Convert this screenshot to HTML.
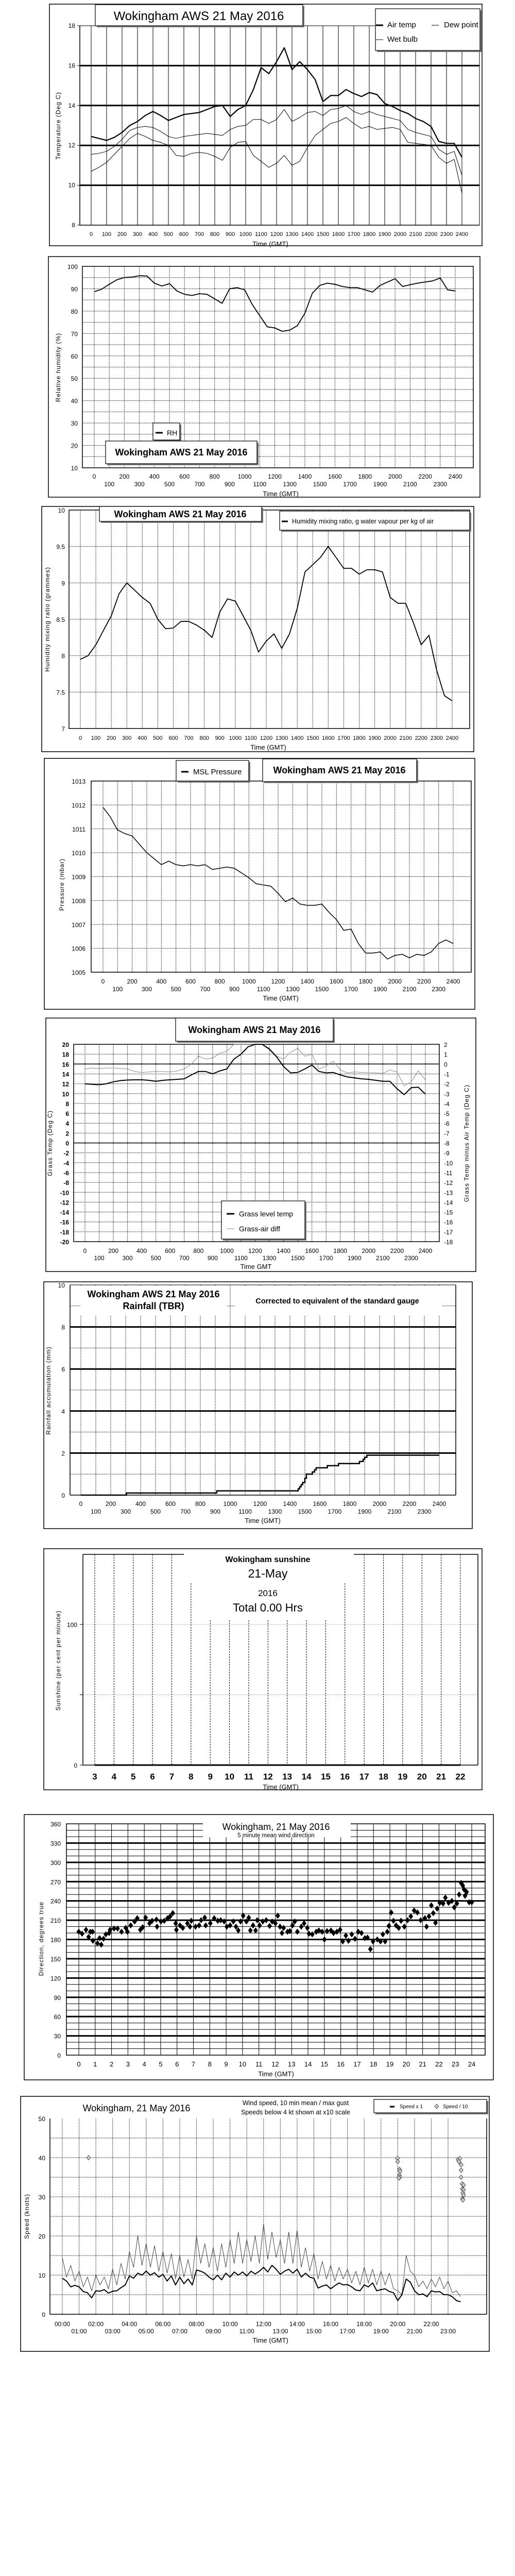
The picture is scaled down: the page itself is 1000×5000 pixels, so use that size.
<!DOCTYPE html>
<html><head><meta charset="utf-8"><title>Wokingham AWS 21 May 2016</title>
<style>
html,body{margin:0;padding:0;background:#fff;}
svg{display:block;font-family:"Liberation Sans",sans-serif;}
</style></head>
<body>
<svg id="page" xmlns="http://www.w3.org/2000/svg" width="1000" height="5000" viewBox="0 0 1000 5000"></svg>
<script>
// ---------- data ----------
const halfHours = [0,0.5,1,1.5,2,2.5,3,3.5,4,4.5,5,5.5,6,6.5,7,7.5,8,8.5,9,9.5,10,10.5,11,11.5,12,12.5,13,13.5,14,14.5,15,15.5,16,16.5,17,17.5,18,18.5,19,19.5,20,20.5,21,21.5,22,22.5,23,23.5,24];
const hundredTicks = [0,100,200,300,400,500,600,700,800,900,1000,1100,1200,1300,1400,1500,1600,1700,1800,1900,2000,2100,2200,2300,2400];
// chart 1
const airTemp = [12.45,12.35,12.25,12.4,12.65,13.0,13.2,13.5,13.7,13.5,13.25,13.4,13.55,13.6,13.65,13.8,13.95,14.0,13.45,13.8,14.0,14.8,15.9,15.6,16.2,16.9,15.8,16.2,15.8,15.3,14.2,14.5,14.5,14.8,14.6,14.45,14.65,14.55,14.1,13.95,13.75,13.6,13.35,13.2,12.95,12.2,12.1,12.1,11.4];
const wetBulb = [11.55,11.6,11.7,11.95,12.3,12.75,12.9,12.95,12.9,12.7,12.45,12.35,12.45,12.5,12.55,12.6,12.55,12.5,12.8,12.95,13.0,13.3,13.3,13.1,13.3,13.8,13.2,13.4,13.65,13.7,13.5,13.8,13.85,14.0,13.7,13.55,13.7,13.55,13.45,13.35,13.25,12.8,12.65,12.55,12.45,11.8,11.55,11.7,10.5];
const dewPoint = [10.7,10.9,11.15,11.55,11.95,12.35,12.6,12.45,12.25,12.15,12.0,11.5,11.45,11.6,11.65,11.6,11.45,11.25,11.9,12.15,12.2,11.5,11.2,10.9,11.1,11.5,11.0,11.2,11.9,12.5,12.8,13.1,13.2,13.4,13.1,12.85,12.95,12.8,12.85,12.9,12.8,12.15,12.1,12.05,12.0,11.4,11.1,11.3,9.6];
const tempTicks = [8,10,12,14,16,18];
// chart 2
const relHum = [88.7,89.8,92,94,95,95.2,95.8,95.7,92.5,91.2,92.3,89,87.5,87,87.8,87.5,85.5,83.5,90,90.5,89.5,83,78,73,72.5,71,71.5,73.5,79,88,91.5,92.5,92,91,90.5,90.5,89.5,88.5,91.5,93,94.5,91,91.8,92.5,93,93.5,94.8,89.5,89];
const rhTicks = [10,20,30,40,50,60,70,80,90,100];
// chart 3
const mixRatio = [7.95,8.0,8.15,8.35,8.55,8.85,9.0,8.9,8.8,8.72,8.5,8.37,8.38,8.47,8.47,8.42,8.35,8.25,8.6,8.78,8.75,8.55,8.35,8.05,8.2,8.3,8.1,8.3,8.65,9.15,9.25,9.35,9.5,9.35,9.2,9.2,9.12,9.18,9.18,9.15,8.8,8.72,8.72,8.45,8.15,8.28,7.8,7.45,7.38];
const mixTicks = [7,7.5,8,8.5,9,9.5,10];
// chart 4
const pressure = [1011.9,1011.5,1010.95,1010.8,1010.7,1010.35,1010.0,1009.75,1009.5,1009.65,1009.5,1009.45,1009.5,1009.45,1009.5,1009.3,1009.35,1009.4,1009.35,1009.15,1008.95,1008.7,1008.65,1008.6,1008.3,1007.95,1008.1,1007.85,1007.8,1007.8,1007.85,1007.5,1007.2,1006.75,1006.8,1006.2,1005.8,1005.8,1005.85,1005.55,1005.7,1005.75,1005.6,1005.75,1005.7,1005.85,1006.2,1006.35,1006.2];
const pressTicks = [1005,1006,1007,1008,1009,1010,1011,1012,1013];
// chart 5
const grassTemp = [12.0,11.9,11.8,12.0,12.4,12.65,12.75,12.8,12.8,12.7,12.5,12.7,12.8,12.9,13.0,13.8,14.5,14.5,14.0,14.6,15.0,17.0,18.0,19.5,20,20,19.0,17.5,15.5,14.2,14.3,15.0,15.8,14.5,14.2,14.3,13.8,13.4,13.2,13.0,12.9,12.7,12.5,12.5,11.0,9.8,11.2,11.3,9.9];
const grassAirDiff = [-0.5,-0.4,-0.45,-0.4,-0.4,-0.45,-0.5,-0.75,-0.85,-0.8,-0.75,-0.75,-0.8,-0.7,-0.5,0.0,0.8,0.5,0.6,1.1,1.3,2,2,2,2,2,1.6,0.8,0.5,1.2,1.6,0.8,1.0,-0.5,-0.2,0.3,-0.6,-0.9,-0.8,-0.85,-0.85,-0.9,-0.95,-0.6,-0.8,-2.2,-1.8,-0.7,-1.6];
const grassTicks = [-20,-18,-16,-14,-12,-10,-8,-6,-4,-2,0,2,4,6,8,10,12,14,16,18,20];
const diffTicks = [-18,-17,-16,-15,-14,-13,-12,-11,-10,-9,-8,-7,-6,-5,-4,-3,-2,-1,0,1,2];
// chart 6
const rainHours = [0,3.05,9.1,14.55,14.65,14.75,14.85,15.0,15.1,15.5,15.65,15.75,16.5,17.25,18.65,18.9,19.0,19.15,24];
const rainTotal = [0,0.1,0.2,0.3,0.4,0.5,0.6,0.8,1.0,1.1,1.2,1.3,1.4,1.5,1.6,1.7,1.8,1.9,1.9];
const rainTicks = [0,2,4,6,8,10];
// chart 7
const sunHours = [3,4,5,6,7,8,9,10,11,12,13,14,15,16,17,18,19,20,21,22];
const sunValues = [0,0,0,0,0,0,0,0,0,0,0,0,0,0,0,0,0,0,0,0];
// chart 8
const dirHours = [0.00,0.20,0.44,0.70,0.60,0.84,0.86,1.14,1.37,1.27,1.51,1.65,1.85,1.91,2.15,2.37,2.61,2.87,2.97,3.17,3.41,3.57,3.76,3.90,4.08,4.32,4.48,4.74,4.78,5.02,5.22,5.42,5.58,5.74,5.92,5.96,6.18,6.35,6.63,6.79,6.87,7.13,7.35,7.47,7.69,7.75,8.03,8.27,8.49,8.67,8.88,9.04,9.24,9.44,9.60,9.74,9.88,10.04,10.24,10.38,10.48,10.64,10.80,10.90,11.04,11.24,11.45,11.65,11.81,12.01,12.15,12.29,12.41,12.51,12.75,12.89,13.05,13.19,13.35,13.59,13.76,13.96,14.06,14.26,14.50,14.66,14.86,15.00,15.16,15.40,15.56,15.76,15.96,16.12,16.31,16.47,16.67,16.87,17.07,17.27,17.47,17.63,17.81,17.97,18.23,18.43,18.57,18.71,18.84,18.94,19.08,19.22,19.38,19.54,19.68,19.88,20.08,20.28,20.48,20.68,20.88,21.14,21.24,21.39,21.53,21.65,21.79,21.89,22.05,22.25,22.39,22.59,22.79,22.93,23.09,23.23,23.35,23.45,23.53,23.59,23.69,23.84,24.00];
const dirDegrees = [192,189,195,192,184,192,178,174,172,182,181,188,190,195,197,197,192,198,192,202,208,213,195,199,214,205,209,211,200,208,209,213,216,221,205,195,202,198,205,200,209,200,202,210,214,202,205,213,209,210,208,200,202,208,200,194,208,217,208,214,194,202,194,210,202,208,210,201,208,205,217,200,190,198,192,193,202,208,192,200,205,198,189,188,192,194,192,180,193,194,190,192,195,177,186,178,188,181,192,190,182,183,165,177,180,177,188,177,192,201,222,209,202,198,209,200,210,216,225,222,210,213,200,216,233,221,206,228,237,236,245,237,240,230,236,250,268,264,258,248,254,238,238];
const dirTicks = [0,30,60,90,120,150,180,210,240,270,300,330,360];
const hourTicks = [0,1,2,3,4,5,6,7,8,9,10,11,12,13,14,15,16,17,18,19,20,21,22,23,24];
// chart 9
const windHours = [0,0.25,0.5,0.75,1,1.25,1.5,1.75,2,2.25,2.5,2.75,3,3.25,3.5,3.75,4,4.25,4.5,4.75,5,5.25,5.5,5.75,6,6.25,6.5,6.75,7,7.25,7.5,7.75,8,8.25,8.5,8.75,9,9.25,9.5,9.75,10,10.25,10.5,10.75,11,11.25,11.5,11.75,12,12.25,12.5,12.75,13,13.25,13.5,13.75,14,14.25,14.5,14.75,15,15.25,15.5,15.75,16,16.25,16.5,16.75,17,17.25,17.5,17.75,18,18.25,18.5,18.75,19,19.25,19.5,19.75,20,20.25,20.5,20.75,21,21.25,21.5,21.75,22,22.25,22.5,22.75,23,23.25,23.5,23.75];
const windMean = [9.2,8.5,7.0,7.4,7.0,5.8,5.5,4.2,6.0,5.9,6.3,5.4,5.9,6.0,6.8,7.5,9.8,9.2,10.5,10.0,11.0,10.0,10.6,9.5,10.2,8.5,9.8,7.5,9.5,7.8,9.0,7.5,11.3,11.0,10.5,9.5,8.8,10.0,8.8,10.5,9.5,10.8,10.0,10.8,9.8,11.0,10.3,11.0,12.0,10.8,12.5,11.5,10.2,11.0,11.5,10.5,11.5,9.5,10.5,9.5,9.2,6.7,7.2,7.5,6.5,7.3,8.0,7.5,7.6,7.0,6.2,6.0,7.5,7.0,8.0,6.0,6.3,6.5,5.8,5.5,3.5,5.0,9.0,8.2,6.0,5.0,5.2,4.5,6.0,5.7,5.8,5.0,5.0,4.5,3.5,3.2];
const windGust = [14.5,9.5,12.5,8.5,11.0,7.0,9.5,6.0,10.0,7.5,9.5,6.5,11.5,7.5,13.0,9.0,16.0,12.0,20.0,12.5,18.0,12.0,17.5,11.0,16.0,10.5,15.5,9.0,15.0,9.5,14.0,9.0,20.0,13.0,18.0,12.0,17.0,11.0,18.0,12.0,19.0,13.0,21.0,13.0,19.0,13.5,20.0,13.0,23.0,14.0,21.0,14.5,19.0,13.0,21.0,13.0,21.5,12.0,17.0,11.0,15.5,9.0,13.5,9.0,12.5,8.5,12.0,9.0,11.5,8.0,11.0,7.5,12.0,8.0,11.5,7.5,11.0,7.5,10.5,6.5,6.0,5.0,15.0,11.0,10.0,7.0,8.5,6.5,9.0,7.0,9.5,6.5,8.5,5.5,6.0,4.5];
const lowHours = [1.57,19.98,20.0,20.1,20.14,20.1,20.12,20.06,23.6,23.7,23.65,23.78,23.78,23.78,23.84,23.92,23.86,23.92,23.88,23.92,23.86,23.88];
const lowSpeeds = [40,39.8,39,37,36.5,35.5,35,34.8,39.5,39.8,39,38.2,36.8,35,33.3,33,32,31.8,31,30.5,29.5,29.2];
const speedTicks = [0,10,20,30,40,50];
const clockLabels = ['00:00','01:00','02:00','03:00','04:00','05:00','06:00','07:00','08:00','09:00','10:00','11:00','12:00','13:00','14:00','15:00','16:00','17:00','18:00','19:00','20:00','21:00','22:00','23:00'];

// ---------- helpers ----------
const NS='http://www.w3.org/2000/svg';
const root=document.getElementById('page');
function mk(tag, attrs, name, parent){
  const e=document.createElementNS(NS,tag);
  for(const k in attrs) e.setAttribute(k,attrs[k]);
  
  
  (parent||root).appendChild(e);
  return e;
}
function L(p,x1,y1,x2,y2,w,name,dash,col){
  const a={x1:x1,y1:y1,x2:x2,y2:y2,stroke:col||'#000','stroke-width':w};
  if(dash) a['stroke-dasharray']=dash;
  return mk('line',a,name,p);
}
function R(p,x,y,w,h,name,fill,sw){
  return mk('rect',{x:x,y:y,width:w,height:h,fill:fill||'none',stroke:'#000','stroke-width':sw===undefined?1.5:sw},name,p);
}
function T(p,x,y,str,size,anchor,name,weight,rot,ls){
  const a={x:x,y:y,'font-size':size,'text-anchor':anchor||'start',fill:'#000'};
  if(weight) a['font-weight']=weight;
  if(rot){a.transform='rotate(-90 '+x+' '+y+')';}
  if(ls) a['letter-spacing']=ls;
  const e=mk('text',a,name,p);
  e.textContent=str;
  return e;
}
function box(p,x1,y1,x2,y2,name){
  mk('rect',{x:x1+3,y:y1+3,width:x2-x1,height:y2-y1,fill:'#777'},name+'-shadow',p);
  return mk('rect',{x:x1,y:y1,width:x2-x1,height:y2-y1,fill:'#fff',stroke:'#000','stroke-width':1.2},name,p);
}
function series(p,xs,ys,fx,fy,name,col,w){
  let d='';
  for(let i=0;i<xs.length;i++){d+=(i?'L':'M')+fx(xs[i]).toFixed(1)+' '+fy(ys[i]).toFixed(1);}
  return mk('path',{d:d,fill:'none',stroke:col,'stroke-width':w,'stroke-linejoin':'round'},name,p);
}
const dot='1.5 1.5';

// ---------- chart 1 : temperatures ----------
(function(){
  const g=mk('g',{},'temperature-chart');
  const X=h=>177+h*(897-177)/24, Y=v=>437-(v-8)*(437-50)/10;
  R(g,96,8,840,469,'chart-frame');
  for(let i=0;i<hundredTicks.length;i++){L(g,X(i),50,X(i),437,1,'x-gridline');}
  L(g,931,50,931,437,1,'x-gridline');
  L(g,155,50,931,50,1,'plot-top');
  L(g,155,50,155,437,1.5,'y-axis');
  L(g,155,437,931,437,1.5,'x-axis');
  tempTicks.forEach(v=>{
    if(v>8&&v<18) L(g,155,Y(v),931,Y(v),3,'y-gridline-major');
    L(g,150,Y(v),155,Y(v),1,'y-tick');
    T(g,146,Y(v)+4,String(v),12,'end','y-tick-label');
  });
  hundredTicks.forEach((v,i)=>T(g,X(i),458,String(v),11,'middle','x-tick-label'));
  T(g,525,478,'Time (GMT)',13,'middle','x-axis-title');
  T(g,117,244,'Temperature (Deg C)',12,'middle','y-axis-title',null,true,1);
  series(g,halfHours,dewPoint,X,Y,'series-dew-point','#000',1);
  series(g,halfHours,wetBulb,X,Y,'series-wet-bulb','#000',1);
  series(g,halfHours,airTemp,X,Y,'series-air-temp','#000',2.2);
  box(g,185,9,588,50,'title-box');
  T(g,386,39,'Wokingham AWS 21 May 2016',24,'middle','chart-title');
  box(g,729,17,932,98,'legend');
  L(g,730,49,744,49,3,'legend-swatch-air-temp');
  T(g,752,53,'Air temp',15,'start','legend-entry-air-temp');
  L(g,838,49,852,49,1,'legend-swatch-dew-point');
  T(g,862,53,'Dew point',15,'start','legend-entry-dew-point');
  L(g,730,77,744,77,1,'legend-swatch-wet-bulb');
  T(g,752,81,'Wet bulb',15,'start','legend-entry-wet-bulb');
})();

// ---------- chart 2 : relative humidity ----------
(function(){
  const g=mk('g',{},'humidity-chart');
  const X=h=>183+h*(884-183)/24, Y=v=>908-(v-10)*(908-517)/90;
  R(g,94,498,838,467,'chart-frame');
  for(let v=15;v<100;v+=5){L(g,160,Y(v),919,Y(v),1,'y-gridline',dot);}
  for(let i=0;i<hundredTicks.length;i++){L(g,X(i),517,X(i),908,1,'x-gridline',dot);}
  R(g,160,517,759,391,'plot-area',null,1.5);
  rhTicks.forEach(v=>T(g,151,Y(v)+5,String(v),12,'end','y-tick-label'));
  hundredTicks.forEach((v,i)=>T(g,X(i),i%2?944:929,String(v),12,'middle','x-tick-label'));
  T(g,545,963,'Time (GMT)',13,'middle','x-axis-title');
  T(g,117,713,'Relative humidity (%)',12,'middle','y-axis-title',null,true,1);
  series(g,halfHours,relHum,X,Y,'series-rh','#000',1.8);
  box(g,297,821,349,854,'legend');
  L(g,302,840,316,840,3,'legend-swatch-rh');
  T(g,324,845,'RH',14,'start','legend-entry-rh');
  box(g,205,856,499,900,'title-box');
  T(g,352,884,'Wokingham AWS 21 May 2016',18,'middle','chart-title','bold');
})();

// ---------- chart 3 : mixing ratio ----------
(function(){
  const g=mk('g',{},'mixing-ratio-chart');
  const X=h=>156+h*(878-156)/24, Y=v=>1414-(v-7)*(1414-990)/3;
  R(g,81,983,839,476,'chart-frame');
  [7.5,8,8.5,9,9.5].forEach(v=>L(g,134,Y(v),912,Y(v),1,'y-gridline',dot));
  for(let i=0;i<hundredTicks.length;i++){L(g,X(i),990,X(i),1414,1,'x-gridline',dot);}
  R(g,134,990,778,424,'plot-area',null,1.5);
  mixTicks.forEach(v=>T(g,126,Y(v)+5,String(v),12,'end','y-tick-label'));
  hundredTicks.forEach((v,i)=>T(g,X(i),1436,String(v),11,'middle','x-tick-label'));
  T(g,521,1455,'Time (GMT)',13,'middle','x-axis-title');
  T(g,96,1202,'Humidity mixing ratio (grammes)',12,'middle','y-axis-title',null,true,1);
  series(g,halfHours,mixRatio,X,Y,'series-mixing-ratio','#000',1.8);
  box(g,193,983,508,1012,'title-box');
  T(g,350,1004,'Wokingham AWS 21 May 2016',18,'middle','chart-title','bold');
  box(g,543,992,912,1029,'legend');
  L(g,547,1012,559,1012,3,'legend-swatch-mixing-ratio');
  T(g,567,1016,'Humidity mixing ratio, g water vapour per kg of air',12.5,'start','legend-entry-mixing-ratio');
})();

// ---------- chart 4 : pressure ----------
(function(){
  const g=mk('g',{},'pressure-chart');
  const X=h=>200+h*(880-200)/24, Y=v=>1887-(v-1005)*(1887-1516)/8;
  R(g,86,1472,836,487,'chart-frame');
  pressTicks.forEach(v=>{if(v>1005&&v<1013)L(g,177,Y(v),915,Y(v),1,'y-gridline',dot);});
  for(let i=0;i<hundredTicks.length;i++){L(g,X(i),1516,X(i),1887,1,'x-gridline',dot);}
  R(g,177,1516,738,371,'plot-area',null,1.5);
  pressTicks.forEach(v=>T(g,166,Y(v)+5,String(v),12,'end','y-tick-label'));
  hundredTicks.forEach((v,i)=>T(g,X(i),i%2?1924:1909,String(v),12,'middle','x-tick-label'));
  T(g,545,1942,'Time (GMT)',13,'middle','x-axis-title');
  T(g,124,1717,'Pressure (mbar)',12,'middle','y-axis-title',null,true,1);
  series(g,halfHours,pressure,X,Y,'series-msl-pressure','#000',1.5);
  box(g,342,1476,483,1516,'legend');
  L(g,352,1498,366,1498,3,'legend-swatch-pressure');
  T(g,375,1503,'MSL Pressure',15,'start','legend-entry-pressure');
  box(g,510,1473,809,1517,'title-box');
  T(g,659,1501,'Wokingham AWS 21 May 2016',18,'middle','chart-title','bold');
})();

// ---------- chart 5 : grass temperature ----------
(function(){
  const g=mk('g',{},'grass-temp-chart');
  const X=h=>165+h*(826-165)/24, Y=v=>2410-(Math.min(v,20)+20)*(2410-2027)/40;
  const YR=r=>Y((r+8)*2);
  R(g,89,1976,835,492,'chart-frame');
  grassTicks.forEach(v=>{if(v>-20&&v<20)L(g,143,Y(v),853,Y(v),(v===0||v===16)?1.5:1,'y-gridline',(v===0||v===16)?null:dot);});
  for(let i=0;i<hundredTicks.length;i++){L(g,X(i),2027,X(i),2410,1,'x-gridline',dot);}
  R(g,143,2027,710,383,'plot-area',null,1.5);
  grassTicks.forEach(v=>T(g,134,Y(v)+5,String(v),12,'end','y-tick-label','bold'));
  diffTicks.forEach(v=>T(g,862,YR(v)+5,String(v),12,'start','y2-tick-label'));
  hundredTicks.forEach((v,i)=>T(g,X(i),i%2?2446:2432,String(v),12,'middle','x-tick-label'));
  T(g,497,2463,'Time GMT',13,'middle','x-axis-title');
  T(g,101,2219,'Grass Temp (Deg C)',12,'middle','y-axis-title',null,true,1);
  T(g,910,2219,'Grass Temp minus Air Temp (Deg C)',12,'middle','y2-axis-title',null,true,1);
  series(g,halfHours,grassAirDiff,X,YR,'series-grass-air-diff','#888',1);
  series(g,halfHours,grassTemp,X,Y,'series-grass-temp','#000',2);
  box(g,341,1976,647,2021,'title-box');
  T(g,494,2005,'Wokingham AWS 21 May 2016',18,'middle','chart-title','bold');
  box(g,430,2331,592,2405,'legend');
  L(g,440,2356,455,2356,3,'legend-swatch-grass-temp');
  T(g,464,2361,'Grass level temp',14,'start','legend-entry-grass-temp');
  L(g,440,2385,455,2385,1,'legend-swatch-grass-air-diff',null,'#888');
  T(g,464,2390,'Grass-air diff',14,'start','legend-entry-grass-air-diff');
})();

// ---------- chart 6 : rainfall ----------
(function(){
  const g=mk('g',{},'rainfall-chart');
  const X=h=>157+h*(853-157)/24, Y=v=>2902-v*(2902-2494)/10;
  R(g,85,2488,832,479,'chart-frame');
  [1,3,5,7,9].forEach(v=>L(g,136,Y(v),885,Y(v),1,'y-gridline',dot));
  for(let i=0;i<hundredTicks.length;i++){L(g,X(i),2494,X(i),2902,1,'x-gridline',dot);}
  [2,4,6,8].forEach(v=>L(g,136,Y(v),885,Y(v),3,'y-gridline-major'));
  L(g,136,2494,885,2494,1,'plot-top');
  L(g,136,2494,136,2902,1.5,'y-axis');
  L(g,885,2494,885,2902,1.5,'plot-right');
  L(g,136,2902,885,2902,1.5,'x-axis');
  mk('rect',{x:156,y:2496,width:284,height:58,fill:'#fff'},'title-mask-left',g);
  mk('rect',{x:456,y:2496,width:402,height:58,fill:'#fff'},'title-mask-right',g);
  rainTicks.forEach(v=>T(g,126,Y(v)+5,String(v),12,'end','y-tick-label'));
  hundredTicks.forEach((v,i)=>T(g,X(i),i%2?2938:2923,String(v),12,'middle','x-tick-label'));
  T(g,510,2956,'Time (GMT)',13,'middle','x-axis-title');
  T(g,98,2699,'Rainfall accumulation (mm)',12,'middle','y-axis-title',null,true,1);
  let d='';
  for(let i=0;i<rainHours.length;i++){
    const x=X(rainHours[i]).toFixed(1), y=Y(rainTotal[i]).toFixed(1);
    if(i===0) d+='M'+x+' '+y; else d+='H'+x+'V'+y;
  }
  mk('path',{d:d,fill:'none',stroke:'#000','stroke-width':2.5},'series-rainfall',g);
  T(g,298,2518,'Wokingham AWS 21 May 2016',18,'middle','chart-title','bold');
  T(g,298,2541,'Rainfall (TBR)',18,'middle','chart-subtitle','bold');
  T(g,655,2530,'Corrected to equivalent of the standard gauge',14.5,'middle','chart-note','bold');
})();

// ---------- chart 7 : sunshine ----------
(function(){
  const g=mk('g',{},'sunshine-chart');
  const X=h=>184+(h-3)*(894-184)/19, Y=v=>3426-v*(3426-3153)/100;
  R(g,85,3006,851,468,'chart-frame');
  [50,100].forEach(v=>L(g,161,Y(v),928,Y(v),1,'y-gridline',dot,'#999'));
  sunHours.forEach(h=>{
    let top=3017;
    if(h===8||h===16) top=3073;
    if(h>=9&&h<=15) top=3145;
    L(g,X(h),top,X(h),3426,1,'x-gridline','3 2');
  });
  L(g,161,3017,161,3426,1.5,'y-axis');
  L(g,928,3017,928,3426,1.5,'plot-right');
  L(g,161,3426,928,3426,1.5,'x-axis');
  L(g,161,3017,357,3017,1.5,'plot-top-left');
  L(g,687,3017,928,3017,1.5,'plot-top-right');
  [0,50,100].forEach(v=>L(g,155,Y(v),161,Y(v),1,'y-tick'));
  T(g,150,Y(100)+5,'100',12,'end','y-tick-label');
  T(g,150,Y(0)+5,'0',12,'end','y-tick-label');
  sunHours.forEach(h=>T(g,X(h),3454,String(h),17,'middle','x-tick-label','bold'));
  T(g,545,3473,'Time (GMT)',13,'middle','x-axis-title');
  T(g,117,3223,'Sunshine (per cent per minute)',12,'middle','y-axis-title',null,true,1);
  series(g,sunHours,sunValues,X,Y,'series-sunshine','#000',3);
  T(g,520,3032,'Wokingham sunshine',16,'middle','chart-title','bold');
  T(g,520,3062,'21-May',23,'middle','chart-date');
  T(g,520,3098,'2016',17,'middle','chart-year');
  T(g,520,3128,'Total 0.00 Hrs',22,'middle','sunshine-total');
})();

// ---------- chart 8 : wind direction ----------
(function(){
  const g=mk('g',{},'wind-direction-chart');
  const X=h=>153+h*(916-153)/24, Y=v=>3989-v*(3989-3540)/360;
  R(g,47,3522,911,515,'chart-frame');
  for(let d=10;d<360;d+=10){L(g,129,Y(d),942,Y(d),(d%30===0)?3:1,'y-gridline');}
  hourTicks.forEach(h=>L(g,X(h),3540,X(h),3989,1,'x-gridline'));
  R(g,129,3540,813,449,'plot-area',null,1.5);
  mk('rect',{x:394,y:3536,width:287,height:30,fill:'#fff'},'title-mask',g);
  dirTicks.forEach(v=>T(g,118,Y(v)+5,String(v),12,'end','y-tick-label'));
  hourTicks.forEach(h=>T(g,X(h),4011,String(h),13,'middle','x-tick-label'));
  T(g,536,4030,'Time (GMT)',13,'middle','x-axis-title');
  T(g,84,3763,'Direction, degrees true',12,'middle','y-axis-title',null,true,1);
  for(let i=0;i<dirHours.length;i++){
    const x=X(dirHours[i]), y=Y(dirDegrees[i]);
    const p=mk('path',{d:'M'+x.toFixed(1)+' '+(y-6).toFixed(1)+'l4.5 6l-4.5 6l-4.5 -6z',fill:'#000'},'direction-point',g);
  }
  T(g,536,3552,'Wokingham,  21 May 2016',18,'middle','chart-title');
  T(g,536,3566,'5 minute mean wind direction',11.5,'middle','chart-subtitle');
})();

// ---------- chart 9 : wind speed ----------
(function(){
  const g=mk('g',{},'wind-speed-chart');
  const X=h=>121+h*(870-121)/23, Y=v=>4492-v*(4492-4112)/50;
  R(g,40,4069,910,495,'chart-frame');
  for(let v=5;v<50;v+=5){L(g,97,Y(v),945,Y(v),1,'y-gridline',dot);}
  for(let h=0;h<24;h++){L(g,X(h),4112,X(h),4492,1,'x-gridline',dot);}
  L(g,97,4112,97,4492,1.5,'y-axis');
  L(g,945,4112,945,4492,1.5,'plot-right');
  L(g,97,4492,945,4492,1.5,'x-axis');
  speedTicks.forEach(v=>T(g,88,Y(v)+5,String(v),12,'end','y-tick-label'));
  clockLabels.forEach((s,h)=>T(g,X(h),h%2?4529:4515,s,12,'middle','x-tick-label'));
  T(g,525,4547,'Time (GMT)',13,'middle','x-axis-title');
  T(g,56,4302,'Speed (knots)',12,'middle','y-axis-title',null,true,1);
  series(g,windHours,windGust,X,Y,'series-max-gust','#444',1);
  series(g,windHours,windMean,X,Y,'series-mean-speed','#000',2);
  for(let i=0;i<lowHours.length;i++){
    const x=X(lowHours[i]), y=Y(lowSpeeds[i]);
    mk('path',{d:'M'+x.toFixed(1)+' '+(y-4.5).toFixed(1)+'l4 4.5l-4 4.5l-4 -4.5z',fill:'#ccc',stroke:'#333','stroke-width':0.8},'low-speed-point',g);
  }
  T(g,265,4098,'Wokingham,  21 May 2016',18,'middle','chart-title');
  T(g,574,4086,'Wind speed, 10 min mean / max gust',12.5,'middle','chart-subtitle');
  T(g,574,4104,'Speeds below 4 kt shown at x10 scale',12.5,'middle','chart-note');
  box(g,726,4075,945,4101,'legend');
  L(g,757,4089,766,4089,3,'legend-swatch-speed-x1');
  T(g,776,4092,'Speed x 1',10,'start','legend-entry-speed-x1');
  mk('path',{d:'M848 4084l4 4.5l-4 4.5l-4 -4.5z',fill:'#ccc',stroke:'#333','stroke-width':0.8},'legend-swatch-speed-div10',g);
  T(g,860,4092,'Speed / 10',10,'start','legend-entry-speed-div10');
})();
</script>
</body></html>
